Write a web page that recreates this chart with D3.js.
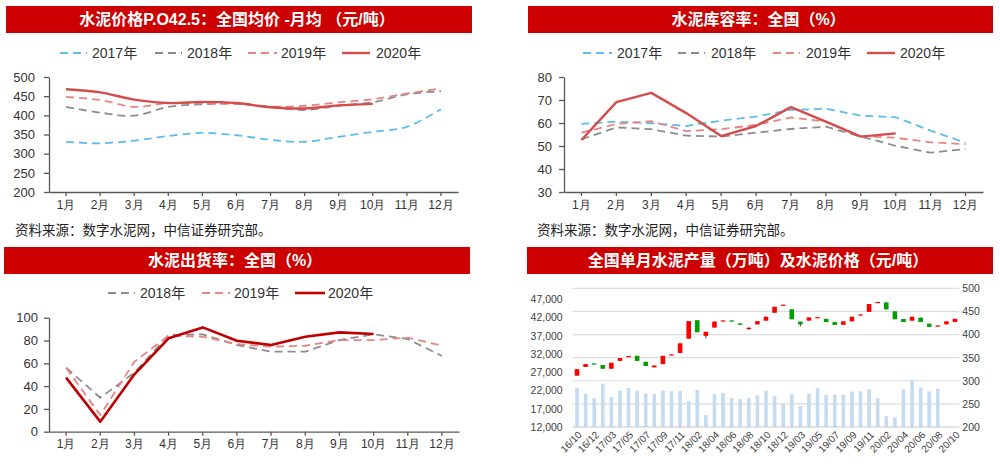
<!DOCTYPE html>
<html><head><meta charset="utf-8">
<script src="https://cdn.jsdelivr.net/npm/d3@7"></script>
<style>
body{margin:0;background:#fff;}
svg{display:block;font-family:"Liberation Sans","Noto Sans CJK SC",sans-serif;}
</style></head><body>
<svg id="c" width="1000" height="464"></svg>
<script>
// ---------- DATA ----------
const months = ["1月","2月","3月","4月","5月","6月","7月","8月","9月","10月","11月","12月"];

// Panel 1: cement price P.O42.5 national average (元/吨)
const priceYears = ["2017年","2018年","2019年","2020年"];
const price2017 = [331,327,334,346,354,348,336,331,344,357,370,416];
const price2018 = [422,407,399,422,429,430,422,414,425,434,455,463];
const price2019 = [448,440,422,432,431,430,423,425,434,442,457,470];
const price2020 = [468,460,441,432,435,432,421,418,426,430];
const priceTicks = [200,250,300,350,400,450,500];

// Panel 2: inventory ratio (%)
const inv2017 = [59.6,60.6,59.9,58.7,61.0,62.8,65.7,66.2,63.2,62.5,56.7,51.4];
const inv2018 = [52.9,58.1,57.3,54.5,54.1,55.8,57.4,58.4,54.1,50.1,47.1,48.7];
const inv2019 = [55.8,59.6,60.8,56.5,57.3,59.2,62.4,60.6,54.3,53.6,51.6,50.8];
const inv2020 = [52.6,69.1,73.1,64.3,54.3,58.7,66.9,60.6,54.1,55.5];
const invTicks = [30,40,50,60,70,80];

// Panel 3: shipment ratio (%)
const shipYears = ["2018年","2019年","2020年"];
const ship2018 = [56.1,29.8,51.8,84.8,85.4,76.0,70.2,70.2,80.4,85.4,81.3,66.4];
const ship2019 = [56.1,14.6,61.4,84.2,83.3,76.9,74.6,75.4,80.4,80.4,82.5,75.4];
const ship2020 = [47.4,8.8,50.3,81.9,91.5,79.8,76.0,83.3,87.1,85.7];
const shipTicks = [0,20,40,60,80,100];

// Panel 4: monthly production (万吨) and price candles (元/吨)
const prodMonths = ["16/10","16/11","16/12","17/02","17/03","17/04","17/05","17/06","17/07","17/08","17/09","17/10","17/11","17/12",
  "18/02","18/03","18/04","18/05","18/06","18/07","18/08","18/09","18/10","18/11","18/12",
  "19/02","19/03","19/04","19/05","19/06","19/07","19/08","19/09","19/10","19/11","19/12",
  "20/02","20/03","20/04","20/05","20/06","20/07","20/08","20/09","20/10"];
const production = [22700,21170,19880,23900,20150,22000,22700,22000,21170,21060,22000,21800,21900,19060,
  22160,15300,20980,21340,19960,19600,19960,20700,21900,20430,18230,
  20980,17770,21170,22630,20790,20880,20880,21720,21810,22350,19880,
  14940,14660,22270,24820,22820,21720,22435,null,null];
const candleOpen  = [311,330,337.5,334,326,343,352,354,341,329,336,355.5,360,391,
  431,397,415,429.5,430.5,424,413.5,422,430,447,463.5,
  454.5,428,430,436.5,434,427,421,428.5,442.5,449,469.5,
  469.5,450,433.5,430,436.5,423.5,418.5,422,427];
const candleClose = [325,336,337,326,339,349,353.5,343,332,333,354,357,381,429,
  405,406,428,430.5,429.5,421,414.5,429,438.5,460,464.5,
  433,422,437,437.5,427,421,428.5,438.5,443.5,466,470.5,
  454.5,433,427,438.5,427,416.5,419.5,428.5,434];
const candleHigh  = [325,336,337.5,334,339,349,353.5,354,341,333,354,357,381,429,
  431,406,428,430.5,430.5,424,416,429,438.5,460,464.5,
  454.5,428,437,437.5,434,427,428.5,438.5,443.5,466,470.5,
  469.5,450,433.5,438.5,436.5,423.5,419.5,428.5,434];
const candleLow   = [311,330,337,326,326,343,352,343,332,329,336,355.5,360,391,
  405,392,415,429.5,429.5,421,410,422,430,447,463.5,
  433,417.5,430,436.5,427,421,421,428.5,442.5,449,469.5,
  454.5,433,427,430,427,416.5,418.5,422,427];
const prodTicks = [12000,17000,22000,27000,32000,37000,42000,47000];
const candleTicks = [200,250,300,350,400,450,500];

// ---------- DRAW ----------
const svg = d3.select("#c");
svg.append("rect").attr("width",1000).attr("height",464).attr("fill","#fff");
const RED_BAR = "#cc0000";
const TXT = "#333333";
const AX = "#595959";

function titleBar(x0,x1,y0,y1,text){
  svg.append("rect").attr("x",x0).attr("y",y0).attr("width",x1-x0).attr("height",y1-y0).attr("fill",RED_BAR);
  svg.append("text").attr("x",(x0+x1)/2-2).attr("y",(y0+y1)/2).attr("dy","0.36em")
    .attr("text-anchor","middle").attr("fill","#fff").attr("font-weight","bold")
    .attr("font-size",16).text(text);
}
const styles = {
  "2017年":{stroke:"#5fbde9",dash:"8,5",w:1.8},
  "2018年":{stroke:"#8c8c8c",dash:"8,5",w:1.8},
  "2019年":{stroke:"#e98484",dash:"8,5",w:1.8},
  "2020年":{stroke:"#d44c4c",dash:null,w:2.4}
};
function legend(items,y,lineX,textX,styleOverride){
  items.forEach((name,i)=>{
    const s = Object.assign({},styles[name],(styleOverride||{})[name]||{});
    svg.append("line").attr("x1",lineX[i][0]).attr("x2",lineX[i][1]).attr("y1",y).attr("y2",y)
      .attr("stroke",s.stroke).attr("stroke-width",s.w).attr("stroke-dasharray",s.dash);
    svg.append("text").attr("x",textX[i]).attr("y",y).attr("dy","0.36em").attr("font-size",14)
      .attr("fill",TXT).text(name);
  });
}
function linePanel(cfg){
  const x = d3.scaleBand().domain(months).range([cfg.x0,cfg.x1]);
  const y = d3.scaleLinear().domain(cfg.domain).range([cfg.yb,cfg.yt]);
  const g = svg.append("g");
  const ya = g.append("g").attr("transform",`translate(${cfg.x0},0)`)
    .call(d3.axisLeft(y).tickValues(cfg.ticks).tickSize(5).tickPadding(cfg.pad).tickSizeOuter(0));
  ya.select(".domain").attr("stroke",AX).attr("stroke-width",1.3);
  ya.selectAll(".tick line").attr("stroke",AX).attr("stroke-width",1.3);
  ya.selectAll("text").attr("font-size",13).attr("fill",TXT);
  const xa = g.append("g").attr("transform",`translate(0,${cfg.yb})`)
    .call(d3.axisBottom(x).tickSize(4).tickPadding(4).tickSizeOuter(0));
  xa.select(".domain").attr("stroke",AX).attr("stroke-width",1.3);
  xa.selectAll(".tick line").attr("stroke",AX).attr("stroke-width",1.3);
  xa.selectAll("text").attr("font-size",12).attr("fill",TXT);
  const ln = d3.line().x((d,i)=>x(months[i])+x.bandwidth()/2).y(d=>y(d));
  if(cfg.curve) ln.curve(cfg.curve);
  cfg.series.forEach(s=>{
    const st = Object.assign({},styles[s.name],s.style||{});
    g.append("path").attr("d",ln(s.values)).attr("fill","none")
      .attr("stroke",st.stroke).attr("stroke-width",st.w).attr("stroke-dasharray",st.dash)
      .attr("stroke-linejoin","round");
  });
}
function source(x,y){
  svg.append("text").attr("x",x).attr("y",y).attr("dy","0.36em").attr("font-size",13.5)
    .attr("fill","#222").text("资料来源：数字水泥网，中信证券研究部。");
}

// Panel 1
titleBar(6,472,6,33,"水泥价格P.O42.5：全国均价 -月均 （元/吨）");
legend(priceYears,53,[[60,87],[155,182],[248,277],[342,370]],[92,187,281,376]);
linePanel({x0:49,x1:458,yt:77,yb:192,domain:[200,500],ticks:priceTicks,pad:9,
  curve:d3.curveCatmullRom.alpha(0.5),
  series:[{name:"2017年",values:price2017},{name:"2018年",values:price2018},
          {name:"2019年",values:price2019},{name:"2020年",values:price2020}]});
source(15,230);

// Panel 2
titleBar(528,993,6,33,"水泥库容率：全国（%）");
legend(priceYears,53,[[583,612],[678,705],[773,800],[867,895]],[617,711,806,900]);
linePanel({x0:564,x1:983,yt:77,yb:192,domain:[30,80],ticks:invTicks,pad:7,
  series:[{name:"2017年",values:inv2017},{name:"2018年",values:inv2018},
          {name:"2019年",values:inv2019},{name:"2020年",values:inv2020}]});
source(537,230);

// Panel 3
titleBar(4,470,247,274,"水泥出货率：全国（%）");
const shipOverride = {"2020年":{stroke:"#c00000",w:2.6}};
legend(shipYears,293,[[108,135],[202,230],[295,325]],[140,234,328],shipOverride);
linePanel({x0:49,x1:459,yt:317.7,yb:431.7,domain:[0,100],ticks:shipTicks,pad:6,
  series:[{name:"2018年",values:ship2018},{name:"2019年",values:ship2019},
          {name:"2020年",values:ship2020,style:shipOverride["2020年"]}]});

// Panel 4
titleBar(527,993,247,274,"全国单月水泥产量（万吨）及水泥价格（元/吨）");
{
  const X0=572.7, X1=959.3, YT=288.3, YB=427;
  const xb = d3.scaleBand().domain(prodMonths).range([X0,X1]);
  const yL = d3.scaleLinear().domain([12000,50000]).range([YB,YT]);
  const yR = d3.scaleLinear().domain([200,500]).range([YB,YT]);
  const g = svg.append("g");
  g.selectAll("line.grid").data(candleTicks.slice(1)).enter().append("line")
    .attr("x1",X0).attr("x2",X1).attr("y1",d=>yR(d)).attr("y2",d=>yR(d))
    .attr("stroke","#dcdcdc").attr("stroke-width",1.2);
  const cx = d=>xb(d)+xb.bandwidth()/2;
  g.selectAll("rect.bar").data(prodMonths.map((m,i)=>({m,v:production[i]})).filter(d=>d.v!=null))
    .enter().append("rect")
    .attr("x",d=>cx(d.m)-1.8).attr("width",3.6)
    .attr("y",d=>yL(d.v)).attr("height",d=>YB-yL(d.v)).attr("fill","#c5dbf0");
  g.append("line").attr("x1",X0).attr("x2",X1).attr("y1",YB).attr("y2",YB)
    .attr("stroke","#c8c8c8").attr("stroke-width",1.2);
  const candles = prodMonths.map((m,i)=>({m,o:candleOpen[i],c:candleClose[i],h:candleHigh[i],l:candleLow[i]}));
  g.selectAll("line.wick").data(candles).enter().append("line")
    .attr("x1",d=>cx(d.m)).attr("x2",d=>cx(d.m)).attr("y1",d=>yR(d.h)).attr("y2",d=>yR(d.l))
    .attr("stroke","#404040").attr("stroke-width",1);
  g.selectAll("rect.candle").data(candles).enter().append("rect")
    .attr("x",d=>cx(d.m)-2.3).attr("width",4.6)
    .attr("y",d=>yR(Math.max(d.o,d.c)))
    .attr("height",d=>Math.max(1.2,Math.abs(yR(d.o)-yR(d.c))))
    .attr("fill",d=>d.c>=d.o?"#ff0000":"#00a000");
  const la = g.append("g").attr("transform",`translate(${X0-7},0)`)
    .call(d3.axisLeft(yL).tickValues(prodTicks).tickFormat(d3.format(",")).tickSize(0).tickPadding(3));
  la.select(".domain").remove();
  la.selectAll("text").attr("font-size",10.5).attr("fill","#404040");
  const ra = g.append("g").attr("transform",`translate(${X1},0)`)
    .call(d3.axisRight(yR).tickValues(candleTicks).tickSize(0).tickPadding(3));
  ra.select(".domain").remove();
  ra.selectAll("text").attr("font-size",10.5).attr("fill","#404040");
  g.selectAll("text.xl").data(prodMonths.filter((m,i)=>i%2===0)).enter().append("text")
    .attr("transform",d=>`translate(${cx(d)+3},${YB+6}) rotate(-45)`)
    .attr("text-anchor","end").attr("dy","0.35em").attr("font-size",10)
    .attr("fill","#404040").text(d=>d);
}
</script>
</body></html>
